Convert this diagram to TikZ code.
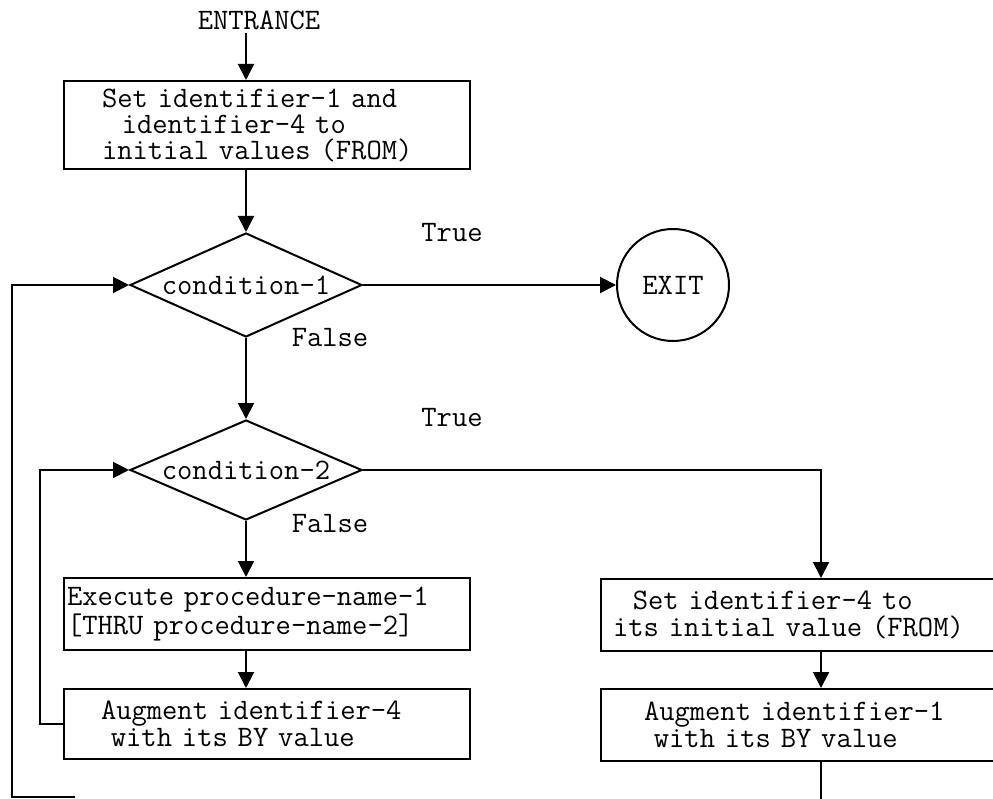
\documentclass[tikz,border=0pt]{standalone}
\usepackage{fontspec}
\usetikzlibrary{shapes.geometric,arrows.meta}
\begin{document}
\begin{tikzpicture}[x=1pt,y=-1pt,
  every node/.style={font=\ttfamily\fontsize{29.7}{27}\selectfont},
  flow/.style={line width=2pt,-{Triangle[length=16pt,width=16pt]}},
  wire/.style={line width=2pt},
  stepbox/.style={draw,line width=2pt,rectangle,anchor=north west,align=left,inner ysep=0pt},
  decision/.style={draw,line width=2pt,diamond,shape aspect=2.2,minimum width=232pt,inner sep=0pt},
  ]
\useasboundingbox (0,0) rectangle (993,799);
% text and shapes
\node (entr) at (259,20) {ENTRANCE};
\node[stepbox,inner xsep=38pt,text width=330pt,minimum height=88pt,font=\ttfamily\fontsize{29.7}{26}\selectfont] (box1) at (63,80)
  {Set identifier-1 and\\~~identifier-4 to\\initial values (FROM)};
\node[decision,minimum height=104pt] (d1) at (246,285) {condition-1};
\node[draw,circle,line width=2pt,minimum size=112pt,inner sep=0pt] (exit) at (673,285) {EXIT};
\node[decision,minimum height=100pt] (d2) at (246,470) {condition-2};
\node[stepbox,inner xsep=3pt,text width=400pt,minimum height=72pt] (box3) at (63,577)
  {Execute procedure-name-1\\{[}THRU procedure-name-2]};
\node[stepbox,inner xsep=37pt,text width=332pt,minimum height=70pt] (box4) at (63,688)
  {Augment identifier-4\\~with its BY value};
\node[stepbox,inner xsep=12pt,text width=380pt,minimum height=72pt] (box5) at (600,578)
  {~~Set identifier-4 to\\its initial value (FROM)};
\node[stepbox,inner xsep=43pt,text width=320pt,minimum height=72pt] (box6) at (600,688)
  {Augment identifier-1\\~with its BY value};
% labels
\node (t1) at (452,233) {True};
\node (f1) at (330,338) {False};
\node (t2) at (452,418) {True};
\node (f2) at (330,524) {False};
% helper coordinates
\coordinate (iL) at (40,0);
\coordinate (oL) at (12,0);
\coordinate (oB) at (75,797);
\coordinate (rx) at (821,0);
\coordinate (rB) at (821,802);
% connectors
\draw[flow] (entr.south -| d1.north) -- (box1.north -| d1.north);
\draw[flow] (box1.south -| d1.north) -- (d1.north);
\draw[flow] (d1.east) -- (exit.west);
\draw[flow] (d1.south) -- (d2.north);
\draw[flow] (d2.south) -- (box3.north -| d2.south);
\draw[flow] (box3.south -| d2.south) -- (box4.north -| d2.south);
\draw[flow] (box4.west) -- (box4.west -| iL) |- (d2.west);
\draw[flow] (oB) -| (d1.west -| oL) -- (d1.west);
\draw[flow] (d2.east) -| (box5.north -| rx);
\draw[flow] (box5.south -| rx) -- (box6.north -| rx);
\draw[wire] (box6.south -| rx) -- (rB);
\end{tikzpicture}
\end{document}
